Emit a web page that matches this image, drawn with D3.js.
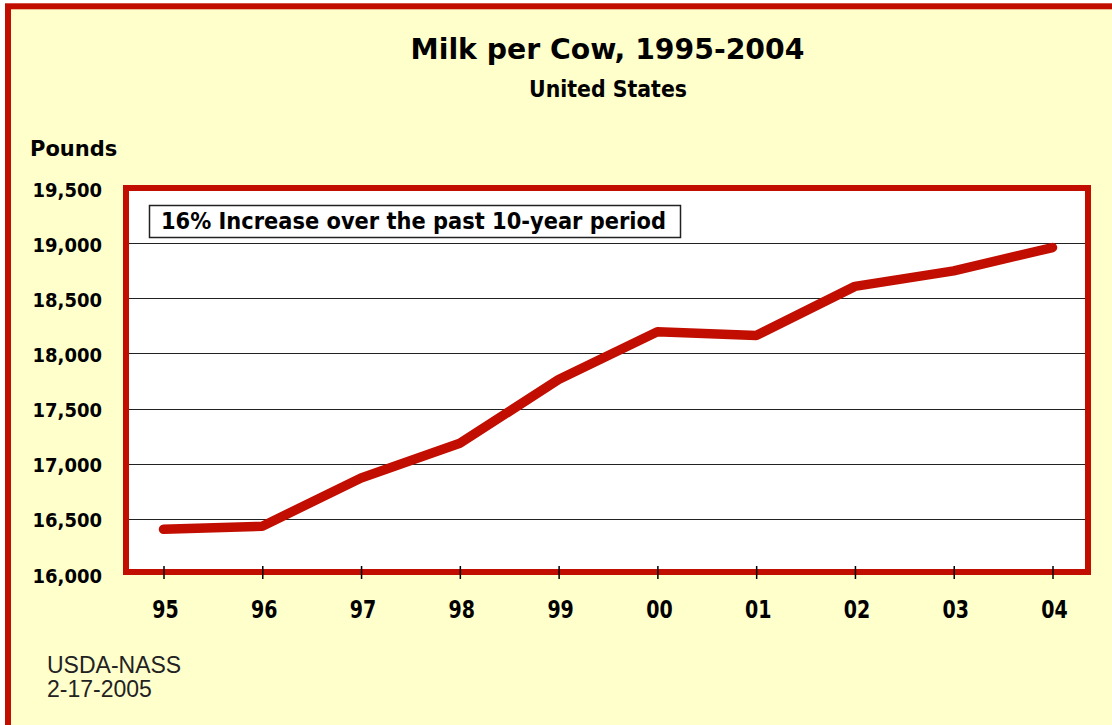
<!DOCTYPE html>
<html>
<head>
<meta charset="utf-8">
<script src="https://cdn.jsdelivr.net/npm/d3@7"></script>
<style>
  html, body { margin: 0; padding: 0; background: #ffffff; }
  svg { display: block; }
</style>
</head>
<body>
<svg id="chart" width="1112" height="725"></svg>
<script>
// ---- data ----
const years = ["95","96","97","98","99","00","01","02","03","04"];
const milkPerCow = [16405, 16433, 16871, 17185, 17763, 18197, 18162, 18608, 18749, 18960];
const yTicks = [16000, 16500, 17000, 17500, 18000, 18500, 19000, 19500];
const titleText = "Milk per Cow, 1995-2004";
const subtitleText = "United States";
const yAxisTitle = "Pounds";
const noteText = "16% Increase over the past 10-year period";
const sourceLines = ["USDA-NASS", "2-17-2005"];

// ---- setup ----
const RED = "#C20E00";
const BG = "#FFFFCC";
const boldFont = "'DejaVu Sans', sans-serif";
const svg = d3.select("#chart");

function styledText(sel, size, k, x, y) {
  return sel.attr("x", 0).attr("y", 0)
    .attr("transform", `translate(${x},${y}) scale(1,${k})`)
    .attr("font-family", boldFont).attr("font-weight", "bold")
    .attr("font-size", size).attr("fill", "#000");
}

// outer panel
svg.append("rect").attr("x", 8).attr("y", 6.3).attr("width", 1200).attr("height", 800)
  .attr("fill", BG).attr("stroke", RED).attr("stroke-width", 6);

const plot = { left: 126, top: 188, right: 1088, bottom: 572 };

const x = d3.scalePoint().domain(years).range([163.5, 1052.5]);
const y = d3.scaleLinear().domain([16000, 19500]).range([574, 188]);

// plot area (white fill)
svg.append("rect").attr("x", plot.left).attr("y", plot.top)
  .attr("width", plot.right - plot.left).attr("height", plot.bottom - plot.top)
  .attr("fill", "#ffffff");

// gridlines
svg.append("g").selectAll("line")
  .data(yTicks.filter(d => d > 16000 && d < 19500))
  .join("line")
  .attr("x1", plot.left + 3).attr("x2", plot.right - 3)
  .attr("y1", d => Math.round(y(d)) + 0.5).attr("y2", d => Math.round(y(d)) + 0.5)
  .attr("stroke", "#222").attr("stroke-width", 1.2);

// annotation box
const note = svg.append("g");
note.append("rect").attr("x", 149.5).attr("y", 205.5).attr("width", 531).attr("height", 32)
  .attr("fill", "#ffffff").attr("stroke", "#222").attr("stroke-width", 1.5);
styledText(note.append("text").text(noteText), 21, 1.08, 161, 228.5);

// line
const line = d3.line().x((d, i) => x(years[i])).y(d => y(d));
svg.append("path").datum(milkPerCow)
  .attr("d", line).attr("fill", "none").attr("stroke", RED)
  .attr("stroke-width", 9.5).attr("stroke-linejoin", "round").attr("stroke-linecap", "round");

// frame border
svg.append("rect").attr("x", plot.left).attr("y", plot.top)
  .attr("width", plot.right - plot.left).attr("height", plot.bottom - plot.top)
  .attr("fill", "none").attr("stroke", RED).attr("stroke-width", 6);

// x axis
const xAxis = svg.append("g").attr("transform", "translate(0,566)")
  .call(d3.axisBottom(x).tickSize(13).tickPadding(0));
xAxis.select(".domain").remove();
xAxis.selectAll(".tick line").attr("stroke", "#000").attr("stroke-width", 1.5);
xAxis.selectAll(".tick text").attr("dy", 0).each(function () {
  styledText(d3.select(this), 19, 1.28, 1.5, 52);
});

// y axis labels
const yAxis = svg.append("g").attr("transform", "translate(102,0)")
  .call(d3.axisLeft(y).tickValues(yTicks).tickFormat(d3.format(",")).tickSize(0).tickPadding(0));
yAxis.select(".domain").remove();
yAxis.selectAll(".tick text").attr("dy", 0).each(function () {
  styledText(d3.select(this), 18, 1.1, 0, 8);
});

// titles
styledText(svg.append("text").attr("text-anchor", "middle").text(titleText), 28.3, 1.0, 607.5, 58.5);
styledText(svg.append("text").attr("text-anchor", "middle").text(subtitleText), 20.5, 1.1, 608, 96.5);
styledText(svg.append("text").text(yAxisTitle), 21, 1.05, 30, 155.5);

// source
svg.append("g").selectAll("text").data(sourceLines).join("text")
  .attr("x", 47).attr("y", (d, i) => 672.5 + i * 24)
  .attr("font-family", "'Liberation Sans', Arial, sans-serif").attr("font-size", 23)
  .attr("fill", "#222").text(d => d);
</script>
</body>
</html>
